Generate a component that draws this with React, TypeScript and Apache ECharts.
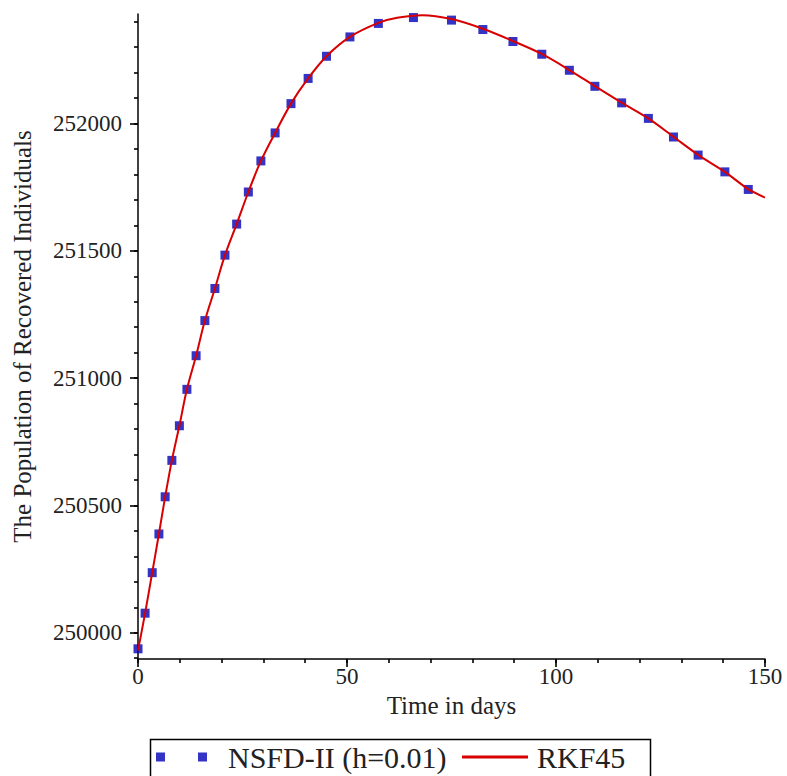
import React, { useEffect, useRef } from "react";
import * as echarts from "echarts";

// NSFD-II (h=0.01) markers: time (days) and recovered population
const nsfdTime = [0, 1.7, 3.4, 5.0, 6.5, 8.1, 9.9, 11.7, 13.9, 16.0, 18.4, 20.8, 23.6, 26.4, 29.4, 32.8, 36.6, 40.7, 45.1, 50.7, 57.5, 65.9, 75.0, 82.5, 89.7, 96.6, 103.2, 109.3, 115.7, 122.1, 128.1, 134.0, 140.4, 146.0];
const nsfdValues = [249937, 250077, 250236, 250388, 250534, 250677, 250813, 250956, 251088, 251226, 251352, 251483, 251605, 251731, 251853, 251963, 252078, 252177, 252264, 252340, 252393, 252416, 252406, 252369, 252322, 252272, 252209, 252146, 252081, 252020, 251947, 251876, 251810, 251741];

// RKF45 curve
const rkfTime = [0, 1.7, 3.4, 5.0, 6.5, 8.1, 9.9, 11.7, 13.9, 16.0, 18.4, 20.8, 23.6, 26.4, 29.4, 32.8, 36.6, 40.7, 45.1, 50.7, 57.5, 62.0, 68.0, 75.0, 82.5, 89.7, 96.6, 103.2, 109.3, 115.7, 122.1, 128.1, 134.0, 140.4, 146.0, 150.0];
const rkfValues = [249930, 250077, 250236, 250388, 250534, 250677, 250813, 250956, 251088, 251226, 251352, 251483, 251605, 251731, 251853, 251963, 252078, 252177, 252264, 252340, 252395, 252415, 252425, 252410, 252372, 252324, 252273, 252210, 252147, 252082, 252020, 251948, 251877, 251810, 251742, 251709];

// axis ranges and tick steps
const xRange = [0, 150];
const xMinorStep = 10;
const xMajorStep = 50;
const yRange = [249897, 252430];
const yMinorRange = [249900, 252500];
const yMajorRange = [250000, 252500];
const yMinorStep = 100;
const yMajorStep = 500;

const seriesNames = ["NSFD-II (h=0.01)", "RKF45"];
const xTitle = "Time in days";
const yTitle = "The Population of Recovered Individuals";

export default function App() {
  const ref = useRef<HTMLDivElement>(null);
  useEffect(() => {
    if (!ref.current) return;
    const chart = echarts.init(ref.current, null, { renderer: "svg" });
    const font = "Liberation Serif";
    const textColor = "#222";
    const axisColor = "#000";
    const tickWidth = 1.6;

    // pixel geometry of the plot area
    const H = 776;
    const left = 138, right = 22, top = 14, bottom = 117;
    const plotH = H - top - bottom;
    const pxPerUnit = plotH / (yRange[1] - yRange[0]);
    const yPix = (v: number) => H - bottom - (v - yRange[0]) * pxPerUnit;
    const gridFor = (r: number[]) => ({
      left,
      right,
      top: yPix(r[1]),
      bottom: H - yPix(r[0]),
      containLabel: false,
      outerBoundsMode: "none",
    });

    const hiddenX = (gridIndex: number) => ({
      type: "value",
      gridIndex,
      min: xRange[0],
      max: xRange[1],
      show: false,
    });

    chart.setOption({
      animation: false,
      backgroundColor: "#fff",
      grid: [
        { left, right, top, bottom, containLabel: false, outerBoundsMode: "none" },
        gridFor(yMinorRange),
        gridFor(yMajorRange),
      ],
      xAxis: [
        {
          type: "value",
          gridIndex: 0,
          min: xRange[0],
          max: xRange[1],
          interval: xMinorStep,
          position: "bottom",
          splitLine: { show: false },
          axisLine: { show: true, onZero: false, lineStyle: { color: axisColor, width: 1.5 } },
          axisTick: { show: true, length: 4, lineStyle: { color: axisColor, width: tickWidth } },
          axisLabel: { show: false },
        },
        {
          type: "value",
          gridIndex: 0,
          min: xRange[0],
          max: xRange[1],
          interval: xMajorStep,
          position: "bottom",
          splitLine: { show: false },
          axisLine: { show: false, onZero: false },
          axisTick: { show: true, length: 8, lineStyle: { color: axisColor, width: tickWidth } },
          axisLabel: {
            show: true,
            margin: 6,
            fontFamily: font,
            fontSize: 23,
            color: textColor,
          },
          name: xTitle,
          nameLocation: "middle",
          nameGap: 29,
          nameTextStyle: { fontFamily: font, fontSize: 25, color: textColor },
        },
        hiddenX(1),
        hiddenX(2),
      ],
      yAxis: [
        {
          type: "value",
          gridIndex: 0,
          min: yRange[0],
          max: yRange[1],
          position: "left",
          splitLine: { show: false },
          axisLine: { show: true, onZero: false, lineStyle: { color: axisColor, width: 1.5 } },
          axisTick: { show: false },
          axisLabel: { show: false },
          name: yTitle,
          nameLocation: "middle",
          nameGap: 103,
          nameRotate: 90,
          nameTextStyle: { fontFamily: font, fontSize: 25, color: textColor },
        },
        {
          type: "value",
          gridIndex: 1,
          min: yMinorRange[0],
          max: yMinorRange[1],
          interval: yMinorStep,
          position: "left",
          splitLine: { show: false },
          axisLine: { show: false, onZero: false },
          axisTick: { show: true, length: 4, lineStyle: { color: axisColor, width: tickWidth } },
          axisLabel: { show: false },
        },
        {
          type: "value",
          gridIndex: 2,
          min: yMajorRange[0],
          max: yMajorRange[1],
          interval: yMajorStep,
          position: "left",
          splitLine: { show: false },
          axisLine: { show: false, onZero: false },
          axisTick: { show: true, length: 8, lineStyle: { color: axisColor, width: tickWidth } },
          axisLabel: {
            show: true,
            margin: 16,
            fontFamily: font,
            fontSize: 23,
            color: textColor,
            formatter: (v: number) => (v > yRange[1] ? "" : String(v)),
          },
        },
      ],
      legend: [
        {
          data: [seriesNames[0]],
          left: 156,
          top: 742,
          padding: 0,
          itemWidth: 51,
          itemHeight: 9,
          icon: "path://M0,0H9V9H0Z M42,0H51V9H42Z",
          textStyle: { fontFamily: font, fontSize: 30, color: textColor, padding: [0, 0, 0, 16] },
          selectedMode: false,
        },
        {
          data: [seriesNames[1]],
          left: 462,
          top: 742,
          padding: 0,
          itemWidth: 66,
          itemHeight: 3,
          icon: "rect",
          textStyle: { fontFamily: font, fontSize: 30, color: textColor, padding: [0, 0, 0, 4] },
          selectedMode: false,
        },
      ],
      graphic: [
        {
          type: "rect",
          left: 148,
          top: 737,
          shape: { width: 500, height: 60 },
          style: { fill: "none", stroke: "#000", lineWidth: 1.5 },
          silent: true,
        },
      ],
      series: [
        {
          name: seriesNames[0],
          type: "scatter",
          xAxisIndex: 0,
          yAxisIndex: 0,
          symbol: "rect",
          symbolSize: 9,
          itemStyle: { color: "#0000b8" },
          z: 2,
          data: nsfdTime.map((t, i) => [t, nsfdValues[i]]),
        },
        {
          name: seriesNames[1],
          type: "line",
          xAxisIndex: 0,
          yAxisIndex: 0,
          showSymbol: false,
          symbol: "none",
          smooth: 0.3,
          clip: false,
          itemStyle: { color: "#d80000" },
          lineStyle: { color: "#d80000", width: 2 },
          z: 3,
          data: rkfTime.map((t, i) => [t, rkfValues[i]]),
        },
      ],
    });
    return () => chart.dispose();
  }, []);
  return (
    <div
      ref={ref}
      style={{ position: "fixed", left: 0, top: 0, width: 787, height: 776, background: "#fff" }}
    />
  );
}
